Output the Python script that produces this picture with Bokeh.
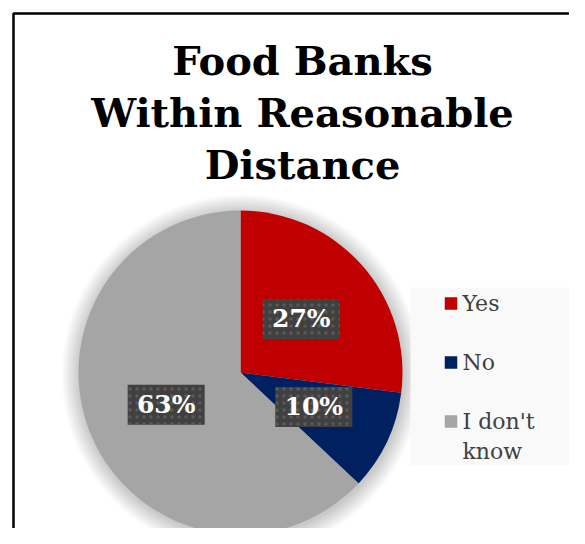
import numpy as np
from bokeh.plotting import figure
from bokeh.models import Range1d
from bokeh.core.properties import value
from bokeh.embed import file_html
from bokeh.resources import INLINE

# ---- data ----
title_lines = ["Food Banks", "Within Reasonable", "Distance"]
categories = ["Yes", "No", "I don't\nknow"]
shares = [27, 10, 63]
colors = ["#C00000", "#002060", "#A5A5A5"]

W, H = 569, 528
SCR_H = 544


def sy(y):
    """screen y (pixels from top) -> data y"""
    return SCR_H - y


p = figure(width=W, height=H, output_backend="svg", toolbar_location=None,
           x_range=Range1d(0, W), y_range=Range1d(SCR_H - H, SCR_H),
           min_border=0, outline_line_color=None, background_fill_color="white")
p.axis.visible = False
p.grid.visible = False

# chart frame (extends past the window on the right and bottom)
p.quad(left=[13], right=[700], top=[sy(13)], bottom=[sy(700)],
       fill_color=None, line_color="black", line_width=2.5)

# title
title_font = value("DejaVu Serif")
for i, t in enumerate(title_lines):
    p.text(x=[302], y=[sy(60 + 52 * i)], text=[t], text_font=title_font,
           text_font_style="bold", text_font_size="40px", text_color="black",
           text_align="center", text_baseline="middle")

# pie
cx, cy, r = 240, sy(372), 162
# soft shadow
for k in range(1, 19):
    p.circle(x=[cx + 1], y=[cy - 2], radius=r + k, fill_color="#000000",
             fill_alpha=0.011, line_color=None)

vals = np.array(shares, dtype=float)
frac = vals / vals.sum()
cum = np.concatenate([[0], np.cumsum(frac)])
start = np.pi / 2 - 2 * np.pi * cum[:-1]
end = np.pi / 2 - 2 * np.pi * cum[1:]
p.wedge(x=cx, y=cy, radius=r, start_angle=start, end_angle=end,
        direction="clock", fill_color=colors, line_color=None)

# data labels
mid = (start + end) / 2
lx = cx + 0.5 * r * np.cos(mid)
ly = cy + 0.5 * r * np.sin(mid)
labels = [f"{int(v)}%" for v in shares]
p.rect(x=lx, y=ly, width=77, height=40, fill_color="#404040", line_color=None,
       hatch_pattern="dot", hatch_color="#595959", hatch_scale=7, hatch_weight=1.2)
p.text(x=lx, y=ly, text=labels, text_font=title_font, text_font_style="bold",
       text_font_size="25px", text_color="white", text_align="center",
       text_baseline="middle")

# legend (manual)
p.quad(left=[410], right=[569], top=[sy(287)], bottom=[sy(465)],
       fill_color="#F9F9F9", line_color=None)
leg_y = [303, 362, 421]
p.rect(x=[450.5] * 3, y=[sy(v) for v in leg_y], width=12.5, height=12.5,
       fill_color=colors, line_color=None)
p.text(x=[462] * 3, y=[sy(v - 13) for v in leg_y], text=categories,
       text_font=value("DejaVu Serif"), text_font_size="22px",
       text_color="#404040", text_align="left", text_baseline="top",
       text_line_height=1.2)

open("out.html", "w").write(file_html(p, INLINE))
